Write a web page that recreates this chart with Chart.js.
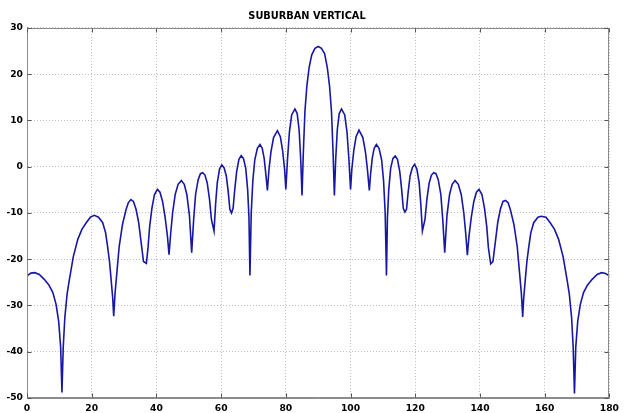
<!DOCTYPE html>
<html>
<head>
<meta charset="utf-8">
<title>Suburban vertical</title>
<script src="https://cdn.jsdelivr.net/npm/chart.js@4.4.1/dist/chart.umd.min.js"></script>
<style>
  html, body { margin: 0; padding: 0; background: #ffffff; }
  #wrap { width: 624px; height: 413px; position: relative; }
</style>
</head>
<body>
<div id="wrap"><canvas id="patternChart"></canvas></div>
<script>
// Angulo (grados) y ganancia (dB) del diagrama vertical
const angles = [
  0, 1.2, 2.4, 3.8, 5.4, 6.8, 8, 9, 9.8, 10.4, 10.8, 11.2, 11.7, 12.4, 13.1, 14.3, 15.7, 17, 18.3, 19.6,
  20.8, 22.1, 23.4, 24.3, 24.9, 25.5, 26, 26.5, 26.8, 27.2, 27.7, 28.5, 29.5, 30.6, 31.3, 32.1, 32.9, 33.7,
  34.5, 35.3, 36, 36.9, 37.4, 37.9, 38.6, 39.4, 40.3, 41.1, 41.9, 42.7, 43.4, 43.9, 44.4, 45, 45.8, 46.7,
  47.7, 48.6, 49.4, 50.2, 50.9, 51.5, 52.1, 52.9, 53.6, 54.3, 55, 55.7, 56.4, 57, 57.8, 58.3, 58.8, 59.5,
  60.2, 60.9, 61.6, 62.2, 62.7, 63.2, 63.7, 64.2, 64.8, 65.5, 66.2, 66.9, 67.6, 68.2, 68.6, 68.9, 69.3,
  69.8, 70.4, 71.2, 72, 72.7, 73.3, 73.8, 74.3, 74.8, 75.4, 76.2, 77.4, 78.3, 79, 79.6, 80, 80.5, 81.1,
  81.8, 82.8, 83.5, 84.1, 84.6, 85, 85.4, 85.9, 86.5, 87.2, 88, 89, 90,
  91, 92, 92.8, 93.5, 94.1, 94.6, 95, 95.4, 95.9, 96.5, 97.2, 98.2, 98.9, 99.5, 100, 100.4, 101, 101.7,
  102.6, 103.8, 104.6, 105.2, 105.8, 106.2, 106.7, 107.3, 108, 108.8, 109.6, 110.2, 110.7, 111.1, 111.4,
  111.8, 112.4, 113.1, 113.8, 114.5, 115.2, 115.8, 116.3, 116.8, 117.3, 117.8, 118.4, 119.1, 119.8, 120.5,
  121.2, 121.7, 122.2, 123, 123.6, 124.3, 125, 125.7, 126.4, 127.1, 127.9, 128.5, 129.1, 129.8, 130.6,
  131.4, 132.3, 133.3, 134.2, 135, 135.6, 136.1, 136.6, 137.3, 138.1, 138.9, 139.7, 140.6, 141.4, 142.1,
  142.6, 143.3, 144, 144.7, 145.5, 146.3, 147.1, 147.9, 148.7, 149.4, 150.5, 151.5, 152.3, 152.8, 153.2,
  153.5, 154, 154.5, 155.1, 155.7, 156.6, 157.9, 158.9, 160.4, 161.7, 163, 164.3, 165.7, 166.9, 167.6,
  168.3, 168.8, 169.2, 169.6, 170.2, 171, 172, 173.2, 174.6, 176.2, 177.6, 178.8, 180
];
const gainDb = [
  -23.6, -23.0, -22.9, -23.3, -24.4, -25.6, -27.2, -29.8, -33.5, -39, -48.8, -39, -32.5, -27.5, -24.4, -19.5, -15.7, -13.5, -12.1, -10.9,
  -10.5, -10.9, -12.1, -14.3, -17.2, -20.5, -24.4, -28.5, -32.3, -27.5, -23.5, -17.2, -12.5, -9.3, -7.8, -7.1, -7.5, -9.2,
  -12, -16.5, -20.5, -20.9, -17.5, -13, -9, -6, -4.9, -5.5, -7.5, -11, -15, -19, -14.5, -10, -6, -3.8,
  -3.0, -3.8, -6, -10.5, -18.6, -11.5, -6, -2.8, -1.5, -1.3, -1.8, -3.5, -7, -11.4, -13.9, -8, -3.5, -0.5,
  0.4, -0.2, -2, -5.5, -9.2, -10, -9, -5, -1, 1.6, 2.4, 1.8, -0.3, -5, -11, -23.5, -10,
  -3, 1.5, 4, 4.8, 4, 1.8, -1.5, -5.1, -0.5, 3.2, 6.3, 7.8, 6.5, 3.5, -0.5, -4.9, 1.5, 7.5,
  11.2, 12.5, 11.5, 8, 1.5, -6.2, 3, 12, 17.5, 21.5, 24.2, 25.6, 26,
  25.6, 24.4, 21.5, 17.5, 12, 3, -6.2, 1.5, 8, 11.5, 12.5, 11.2, 7.5, 1.5, -4.9, -0.5, 3.5, 6.5,
  7.9, 6.3, 3.2, -0.5, -5.1, -1.5, 1.8, 4, 4.8, 4, 1.5, -3, -10, -23.5, -11,
  -5, -0.3, 1.8, 2.3, 1.6, -1, -5, -9, -9.8, -9.2, -5.5, -2, -0.2, 0.5,
  -0.5, -3.5, -8, -13.9, -11.4, -7, -3.5, -1.8, -1.3, -1.5, -2.8, -6, -11.5, -18.6, -10.5, -6,
  -3.8, -3.0, -3.8, -6, -10, -14.5, -19.1, -15, -11, -7.5, -5.5, -4.9, -6, -9, -13,
  -17.5, -21, -20.5, -16.5, -12, -9.2, -7.5, -7.3, -7.8, -9.3, -12.5, -17.2, -23.5, -27.5, -32.5,
  -28.5, -24.4, -20.5, -17.2, -14.3, -12.1, -10.9, -10.7, -10.9, -12.1, -13.5, -15.7, -19.5, -24.4, -27.5,
  -32.5, -39, -49, -39, -33.5, -29.8, -27.2, -25.6, -24.4, -23.3, -22.9, -23.1, -23.6
];

// Ejes
const xTicks = [0, 20, 40, 60, 80, 100, 120, 140, 160, 180];
const yTicks = [-50, -40, -30, -20, -10, 0, 10, 20, 30];

const tickFont = { family: 'DejaVu Sans', size: 9.2, weight: 'bold' };

// Marco del grafico y marcas de escala hacia dentro (estilo matlab)
const framePlugin = {
  id: 'frame',
  afterDatasetsDraw(chart) {
    const { ctx, chartArea: a, scales } = chart;
    const L = Math.round(a.left) + 0.5, R = Math.round(a.right) - 0.5;
    const T = Math.round(a.top) + 0.5, B = Math.round(a.bottom) - 0.5;
    ctx.save();
    ctx.strokeStyle = '#8c8c8c';
    ctx.lineWidth = 1;
    ctx.strokeRect(L, T, R - L, B - T);
    ctx.strokeStyle = '#555555';
    ctx.beginPath();
    xTicks.forEach(v => {
      const px = Math.round(scales.x.getPixelForValue(v)) + 0.5;
      ctx.moveTo(px, T); ctx.lineTo(px, T + 4);
      ctx.moveTo(px, B); ctx.lineTo(px, B - 4);
    });
    yTicks.forEach(v => {
      const py = Math.round(scales.y.getPixelForValue(v)) + 0.5;
      ctx.moveTo(L, py); ctx.lineTo(L + 4, py);
      ctx.moveTo(R, py); ctx.lineTo(R - 4, py);
    });
    ctx.stroke();
    ctx.restore();
  }
};

const ctx = document.getElementById('patternChart').getContext('2d');
new Chart(ctx, {
  type: 'line',
  data: {
    datasets: [{
      label: 'SUBURBAN VERTICAL',
      data: angles.map((a, i) => ({ x: a, y: gainDb[i] })),
      borderColor: '#1717a6',
      borderWidth: 1.6,
      pointRadius: 0,
      tension: 0,
      fill: false
    }]
  },
  options: {
    responsive: true,
    maintainAspectRatio: false,
    animation: false,
    layout: { padding: { left: 0, right: 10, top: 0, bottom: 0 } },
    plugins: {
      legend: { display: false },
      tooltip: { enabled: false },
      title: {
        display: true,
        text: 'SUBURBAN VERTICAL',
        color: '#000000',
        font: { family: 'DejaVu Sans', size: 9.8, weight: 'bold' },
        padding: { top: 10.5, bottom: 5.7 }
      }
    },
    scales: {
      x: {
        type: 'linear',
        min: 0,
        max: 180,
        ticks: { stepSize: 20, color: '#000000', font: tickFont, padding: 5, maxRotation: 0 },
        grid: { color: '#bdbdbd', drawTicks: false },
        border: { color: '#8c8c8c', dash: [1, 2] },
        afterFit: s => { s.height = 15; }
      },
      y: {
        min: -50,
        max: 30,
        ticks: { stepSize: 10, color: '#000000', font: tickFont, padding: 4 },
        grid: { color: '#bdbdbd', drawTicks: false },
        border: { color: '#8c8c8c', dash: [1, 2] },
        afterFit: s => { s.width = 27; }
      }
    }
  },
  plugins: [framePlugin]
});
</script>
</body>
</html>
